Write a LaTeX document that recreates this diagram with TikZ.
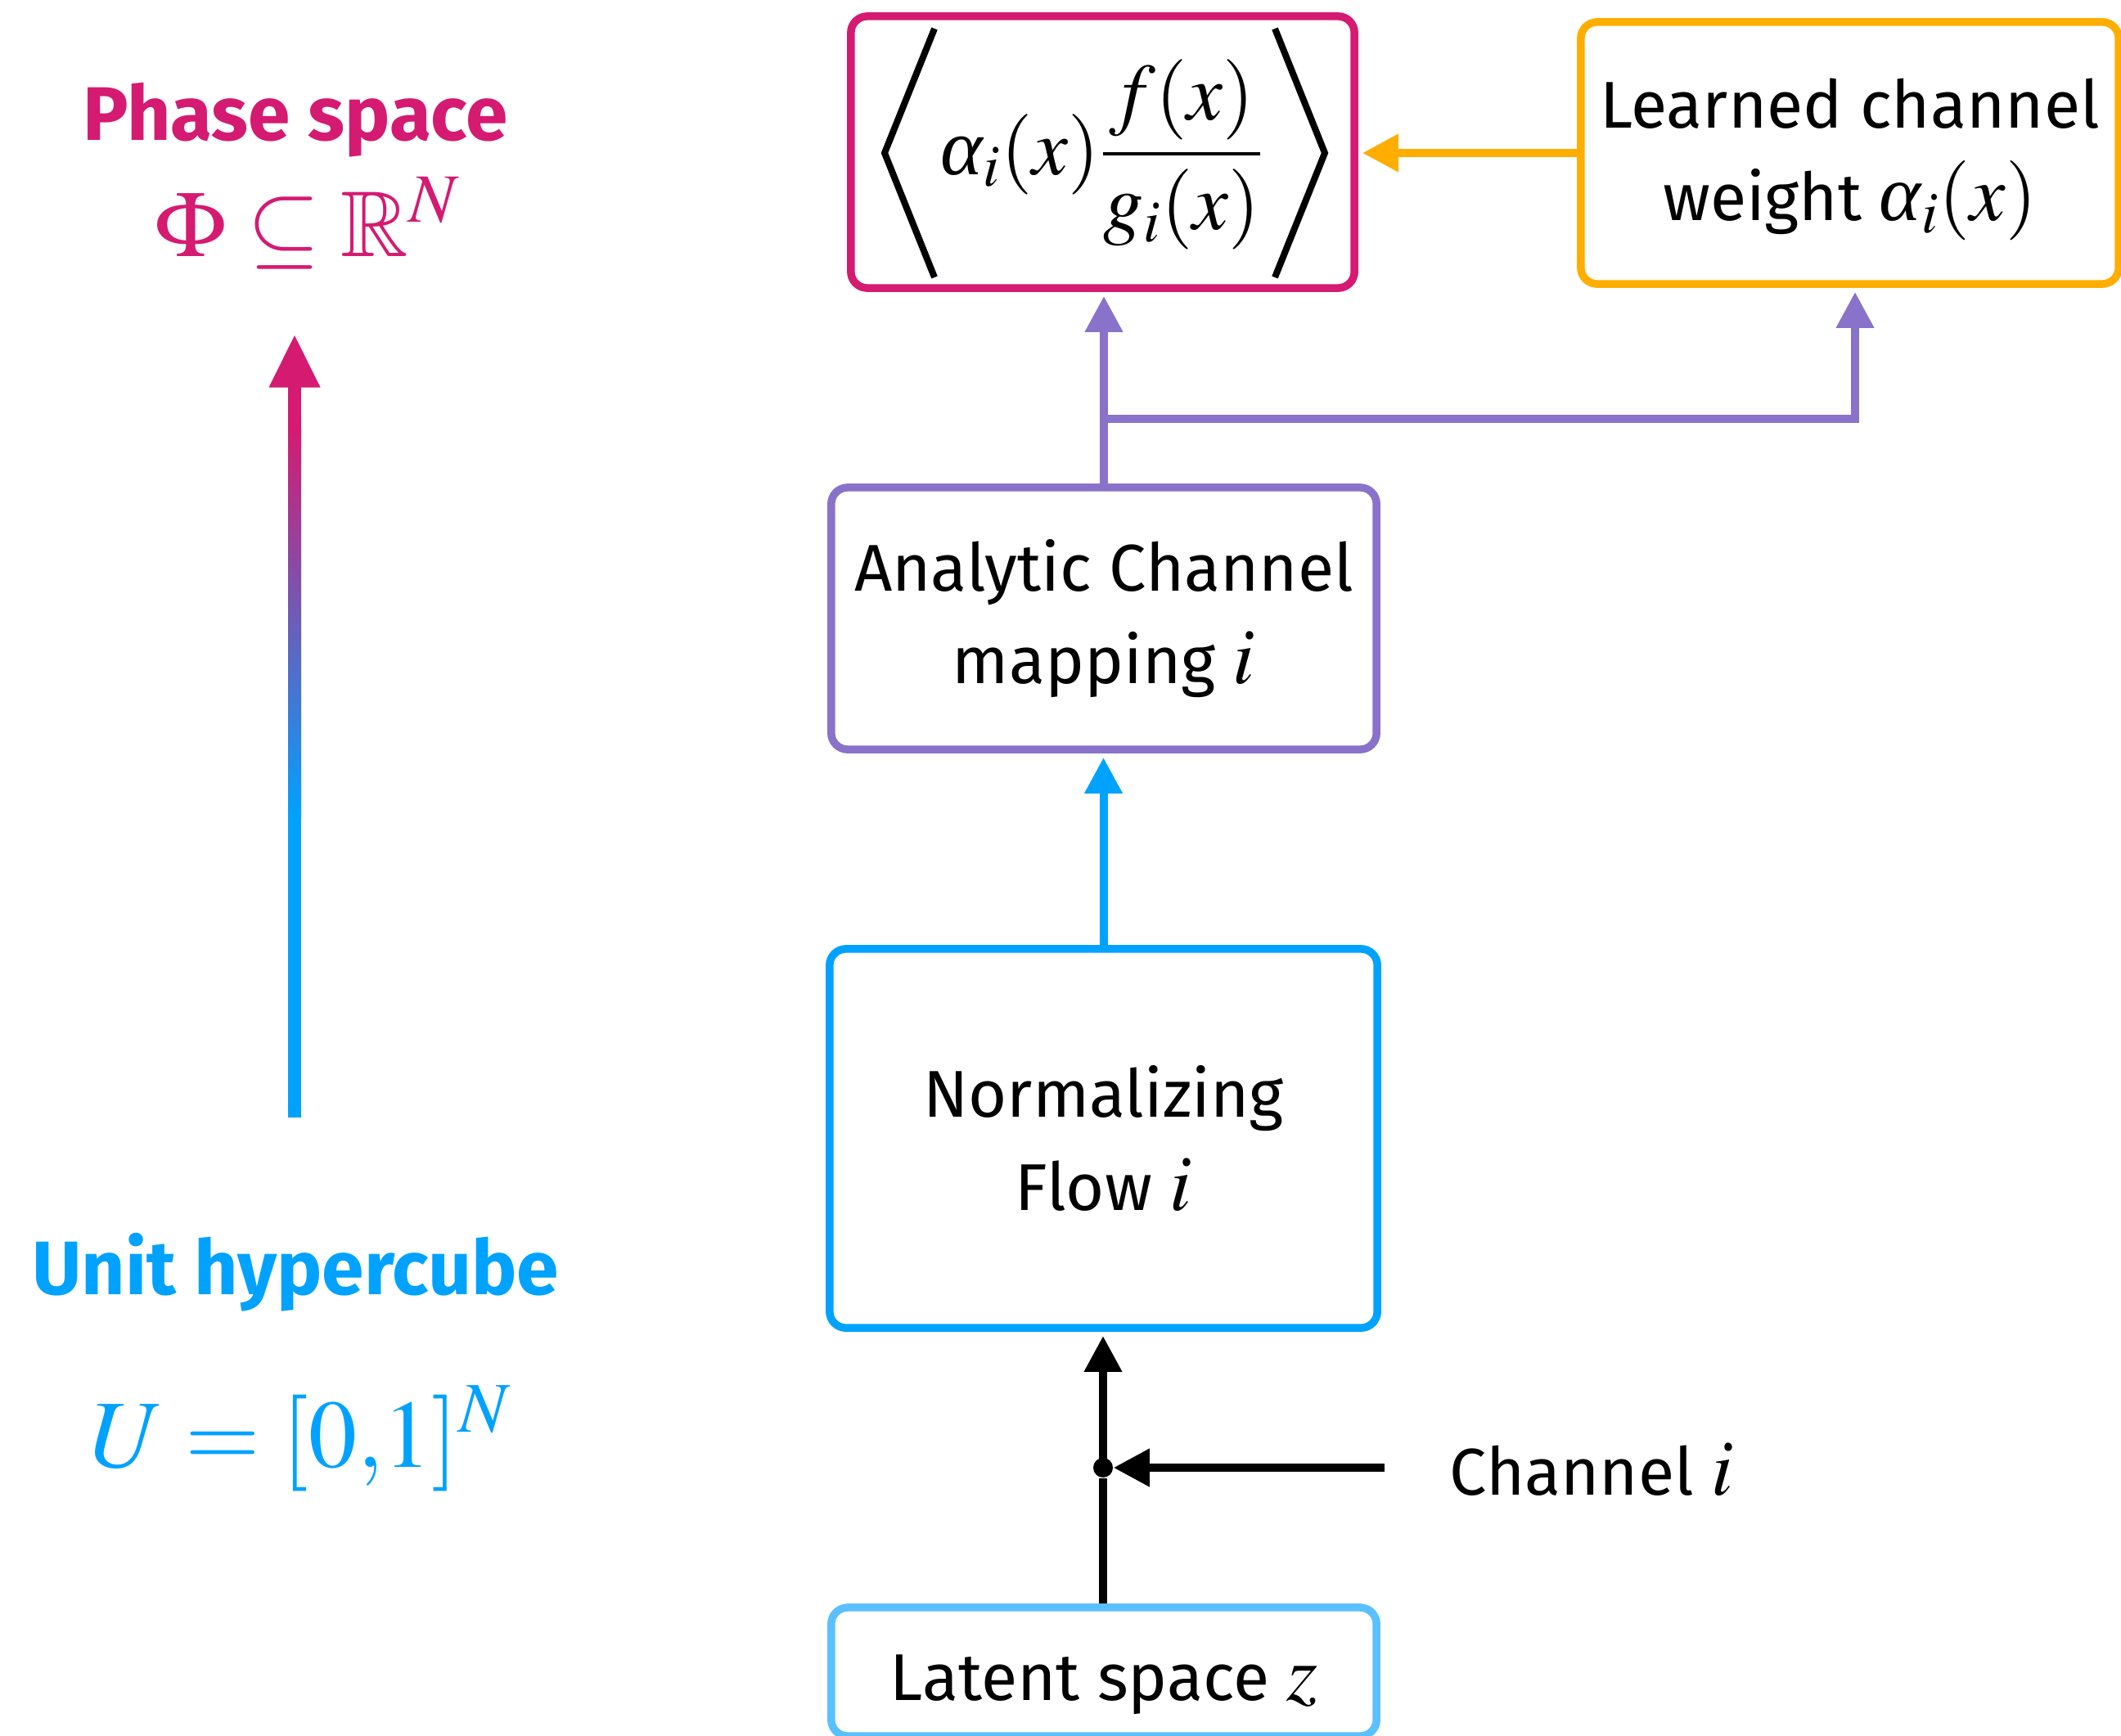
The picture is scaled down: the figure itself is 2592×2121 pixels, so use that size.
\documentclass[tikz,border=0pt]{standalone}
\usepackage{amsmath}
\IfFileExists{mathptmx.sty}{\usepackage{mathptmx}}{}
\usepackage{amssymb}
\usepackage[no-math]{fontspec}
\setmainfont[Scale=0.83]{Fira Sans}
\newfontfamily\serifit{Liberation Serif}
\newcommand{\walpha}{\text{\serifit\itshape α}}
\usetikzlibrary{arrows.meta}

\definecolor{cpink}{RGB}{213,26,114}
\definecolor{corange}{RGB}{255,174,0}
\definecolor{cpurple}{RGB}{137,114,202}
\definecolor{cblue}{RGB}{0,162,255}
\definecolor{clight}{RGB}{91,192,255}

\begin{document}
\begin{tikzpicture}[x=0.01cm, y=-0.01cm,
  box/.style={draw, line width=0.095cm, rounded corners=0.2cm, inner sep=0pt},
  txt/.style={font=\fontsize{27.7}{32.2}\selectfont, align=center},
  title/.style={anchor=base, font=\fontsize{31.8}{36}\selectfont\bfseries},
  formula/.style={anchor=base, font=\fontsize{32.5}{36}\selectfont},
  wire/.style={line width=0.1cm},
  link/.style={line width=0.1cm, -{Triangle[length=0.44cm,width=0.44cm]}, shorten >=0.05cm}]

\useasboundingbox (0,0) rectangle (2592,2121);

% left-hand legend: unit hypercube mapped to phase space
\node[title, text=cpink] (phasetitle) at (361,171) {Phase space};
\node[formula, text=cpink] (phasemath) at (376,313) {$\Phi\subseteq\mathbb{R}^N$};
\node[title, text=cblue] (cubetitle) at (361,1582) {Unit hypercube};
\node[formula, text=cblue, font=\fontsize{33.5}{36}\selectfont] (cubemath) at (368,1793) {$U=[0{,}1]^N$};

% gradient arrow from the hypercube up to phase space
\fill[cblue] (352,999) rectangle (368,1366);
\shade[top color=cpink, bottom color=cblue] (352,524) rectangle (368,1000);
\fill[cpink] (352,473) rectangle (368,525);
\fill[cpink] (360,410) -- (391.5,473.5) -- (328.5,473.5) -- cycle;

% boxes
\node[box, draw=cpink, minimum width=6.15cm, minimum height=3.32cm] (weighted) at (1347.5,186) {};
\node[box, draw=corange, txt, minimum width=6.57cm, minimum height=3.2cm] (chweight) at (2260.5,187)
  {\rule{0pt}{0.77cm}Learned channel\\weight $\walpha_i(x)$};
\node[box, draw=cpurple, txt, minimum width=6.66cm, minimum height=3.2cm] (analytic) at (1349,756)
  {Analytic Channel\\mapping $i$};
\node[box, draw=cblue, txt, minimum width=6.69cm, minimum height=4.63cm] (flow) at (1348.5,1391.5)
  {Normalizing\\Flow $i$};
\node[box, draw=clight, txt, minimum width=6.66cm, minimum height=1.57cm,
  text height=0.9cm, text depth=0.21cm] (latent) at (1349,2043.5) {Latent space $z$};

% weighted ratio inside angle brackets
\draw[line width=0.08cm] (1142,35) -- (1081,187) -- (1142,339);
\draw[line width=0.08cm] (1558,35) -- (1619,187) -- (1558,339);
\node[anchor=base, font=\fontsize{28}{32}\selectfont] (ratio) at (1347,213)
  {$\displaystyle\walpha_i(x)\frac{f(x)}{g_i(x)}$};

% channel selection
\node[circle, fill=black, inner sep=0pt, minimum size=0.24cm] (junc) at (1348,1794) {};
\coordinate (chin) at (1692,1794);
\node[txt, anchor=base] (chlabel) at (1945,1827) {Channel $i$};

% connectors
\draw[wire] (junc |- latent.north) -- (junc);
\draw[link] (junc.center) -- (junc |- flow.south);
\draw[link, shorten >=0pt] (chin) -- (junc);
\draw[link, draw=cblue] (flow.north) -- (flow.north |- analytic.south);
\coordinate (split) at (analytic.north |- 0,512);
\coordinate (turn) at (2267,512);
\draw[link, draw=cpurple] (analytic.north) -- (analytic.north |- weighted.south);
\draw[link, draw=cpurple] (split) -- (turn) -- (turn |- chweight.south);
\draw[link, draw=corange] (chweight.west) -- (chweight.west -| weighted.east);
\end{tikzpicture}
\end{document}
